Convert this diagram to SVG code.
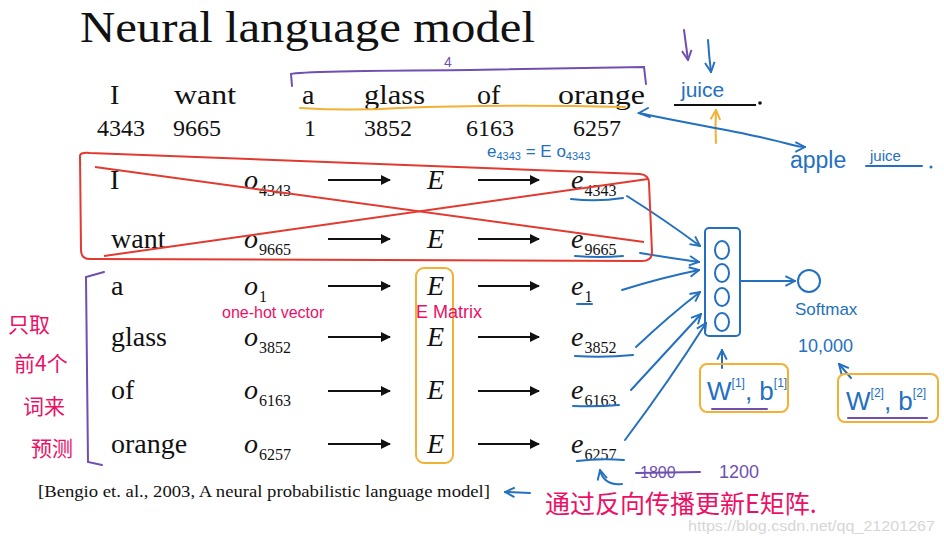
<svg xmlns="http://www.w3.org/2000/svg" width="944" height="537" viewBox="0 0 944 537">
<style>
.ser{font-family:"Liberation Serif","Times New Roman",serif;fill:#111}
.it{font-style:italic}
.sub{font-size:16px;font-style:normal}
.blk{stroke:#111;stroke-width:2;fill:none}
.hb{font-family:"Liberation Sans","Noto Sans",sans-serif;fill:#2470c0}
.hm{font-family:"Liberation Sans","Noto Sans CJK SC",sans-serif;fill:#ec1065}
.hp{font-family:"Liberation Sans","Noto Sans",sans-serif;fill:#6f4faf}
.bl{stroke:#2470c0;stroke-width:2;fill:none;stroke-linecap:round}
.rd{stroke:#e23a30;stroke-width:2;fill:none}
.pu{stroke:#6f4faf;stroke-width:2;fill:none;stroke-linecap:round}
.or{stroke:#f2b133;stroke-width:2;fill:none;stroke-linecap:round}
.cjk{font-family:"Noto Sans CJK SC",sans-serif;fill:#ec1065}
</style>
<defs>
<marker id="ah" viewBox="0 0 10 10" refX="9" refY="5" markerWidth="10" markerHeight="10" markerUnits="userSpaceOnUse" orient="auto"><path d="M0,0 L10,5 L0,10 z" fill="#111"/></marker>
<marker id="bv" viewBox="0 0 10 10" refX="9" refY="5" markerWidth="12" markerHeight="12" markerUnits="userSpaceOnUse" orient="auto"><path d="M1,1 L9,5 L1,9" fill="none" stroke="#2470c0" stroke-width="1.6"/></marker>
<marker id="pv" viewBox="0 0 10 10" refX="9" refY="5" markerWidth="12" markerHeight="12" markerUnits="userSpaceOnUse" orient="auto"><path d="M1,1 L9,5 L1,9" fill="none" stroke="#6f4faf" stroke-width="1.6"/></marker>
<marker id="ov" viewBox="0 0 10 10" refX="9" refY="5" markerWidth="12" markerHeight="12" markerUnits="userSpaceOnUse" orient="auto"><path d="M1,1 L9,5 L1,9" fill="none" stroke="#f2b133" stroke-width="1.6"/></marker>
</defs>
<rect width="944" height="537" fill="#fff"/>

<g id="title"><text class="ser" x="80" y="42" font-size="44" textLength="455" lengthAdjust="spacingAndGlyphs">Neural language model</text></g>

<g id="sentence" class="ser" font-size="28">
<text x="110" y="104">I</text>
<text x="174" y="104" textLength="62" lengthAdjust="spacingAndGlyphs">want</text>
<text x="302" y="104">a</text>
<text x="364" y="104" textLength="61" lengthAdjust="spacingAndGlyphs">glass</text>
<text x="477" y="104">of</text>
<text x="558" y="104" textLength="87" lengthAdjust="spacingAndGlyphs">orange</text>
</g>
<g id="indices" class="ser" font-size="24">
<text x="97" y="136">4343</text>
<text x="173" y="136">9665</text>
<text x="304" y="136">1</text>
<text x="364" y="136">3852</text>
<text x="466" y="136">6163</text>
<text x="573" y="136">6257</text>
</g>

<g id="rows" class="ser" font-size="28">
<text x="110" y="189">I</text>
<text x="111" y="248">want</text>
<text x="111" y="295">a</text>
<text x="111" y="346">glass</text>
<text x="111" y="399">of</text>
<text x="111" y="453">orange</text>
<g class="it">
<text x="244" y="189">o<tspan class="sub" dx="1" dy="7">4343</tspan></text>
<text x="244" y="248">o<tspan class="sub" dx="1" dy="7">9665</tspan></text>
<text x="244" y="295">o<tspan class="sub" dx="1" dy="7">1</tspan></text>
<text x="244" y="346">o<tspan class="sub" dx="1" dy="7">3852</tspan></text>
<text x="244" y="399">o<tspan class="sub" dx="1" dy="7">6163</tspan></text>
<text x="244" y="453">o<tspan class="sub" dx="1" dy="7">6257</tspan></text>
<text x="427" y="189">E</text>
<text x="427" y="248">E</text>
<text x="427" y="295">E</text>
<text x="427" y="346">E</text>
<text x="427" y="399">E</text>
<text x="427" y="453">E</text>
<text x="571" y="189">e<tspan class="sub" dx="1" dy="7">4343</tspan></text>
<text x="571" y="248">e<tspan class="sub" dx="1" dy="7">9665</tspan></text>
<text x="571" y="295">e<tspan class="sub" dx="1" dy="7">1</tspan></text>
<text x="571" y="346">e<tspan class="sub" dx="1" dy="7">3852</tspan></text>
<text x="571" y="399">e<tspan class="sub" dx="1" dy="7">6163</tspan></text>
<text x="571" y="453">e<tspan class="sub" dx="1" dy="7">6257</tspan></text>
</g>
</g>

<g id="connectors">
<g class="blk" marker-end="url(#ah)">
<line x1="328" y1="180" x2="390" y2="180"/><line x1="478" y1="180" x2="539" y2="180"/>
<line x1="328" y1="239" x2="390" y2="239"/><line x1="478" y1="239" x2="539" y2="239"/>
<line x1="328" y1="286" x2="390" y2="286"/><line x1="478" y1="286" x2="539" y2="286"/>
<line x1="328" y1="337" x2="390" y2="337"/><line x1="478" y1="337" x2="539" y2="337"/>
<line x1="328" y1="391" x2="390" y2="391"/><line x1="478" y1="391" x2="539" y2="391"/>
<line x1="328" y1="444" x2="390" y2="444"/><line x1="478" y1="444" x2="539" y2="444"/>
</g>
<g class="bl" marker-end="url(#bv)">
<path d="M627 196 Q665 220 700 246"/>
<path d="M640 253 Q670 258 699 262"/>
<path d="M622 290 Q660 278 699 270"/>
<path d="M636 347 Q670 315 700 292"/>
<path d="M631 390 Q668 350 701 314"/>
<path d="M625 440 Q670 380 706 323"/>
<path d="M740 281 L795 281"/>
<path d="M722 368 L722 350"/>
<path d="M851 378 L839 364"/>
<path d="M708 40 Q709 56 711 72"/>
<path d="M530 493 L505 492"/>
<path d="M622 484 Q604 486 600 470"/>
</g>
<path class="pu" d="M684 30 Q686 45 688 60" marker-end="url(#pv)"/>
<path class="or" d="M716 143 Q715 126 716 110" marker-end="url(#ov)"/>
<path class="bl" d="M639 113 C690 124 720 128 760 137 S795 147 805 147" marker-end="url(#bv)"/>
<path class="bl" d="M650 117 L639 113 L648 108"/>
</g>

<g id="red-box">
<path class="rd" d="M80 156 Q80 152 90 153 L640 174 Q649 175 649 183 L652 252 Q652 261 642 261 L90 259 Q81 259 81 250 Z"/>
<line class="rd" x1="95" y1="167" x2="644" y2="242"/>
<line class="rd" x1="104" y1="256" x2="648" y2="179"/>
</g>

<g id="brackets">
<path class="pu" d="M292 86 L291 74 Q300 71 470 70 Q600 68 644 67 L646 84"/>
<text class="hp" x="444" y="67" font-size="14">4</text>
<path class="or" d="M300 108 Q350 111 400 108 Q500 104 625 107"/>
<path class="pu" d="M104 272 L86 277 L88 462 L102 465"/>
</g>

<g id="E-matrix">
<rect class="or" x="416" y="268" width="37" height="195" rx="8"/>
<text class="hm" x="416" y="318" font-size="18">E Matrix</text>
<text class="hm" x="222" y="318" font-size="16">one-hot vector</text>
</g>

<g id="underlines" class="bl">
<path d="M571 199 Q597 202 623 198"/>
<path d="M575 256 Q600 258 623 256"/>
<path d="M577 304 L592 304"/>
<path d="M575 356 Q605 358 633 355"/>
<path d="M573 406 Q597 407 619 405"/>
<path d="M577 461 Q600 458 624 460"/>
</g>

<g id="equation"><text class="hb" x="487" y="157" font-size="17">e<tspan font-size="11" dy="3">4343</tspan><tspan dy="-3"> = E o</tspan><tspan font-size="11" dy="3">4343</tspan></text></g>

<g id="hidden-layer">
<rect x="705" y="228" width="35" height="108" rx="4" fill="none" stroke="#2470c0" stroke-width="2"/>
<g fill="none" stroke="#2470c0" stroke-width="2">
<ellipse cx="722" cy="250" rx="7" ry="9"/>
<ellipse cx="722" cy="273" rx="7" ry="9"/>
<ellipse cx="722" cy="297" rx="7" ry="9"/>
<ellipse cx="722" cy="322" rx="7" ry="9"/>
</g>
</g>

<g id="softmax">
<circle cx="809" cy="281" r="11" fill="none" stroke="#2470c0" stroke-width="2"/>
<text class="hb" x="795" y="315" font-size="17">Softmax</text>
<text class="hb" x="798" y="352" font-size="18">10,000</text>
</g>

<g id="params1">
<rect class="or" x="700" y="364" width="88" height="48" rx="7"/>
<text class="hb" x="707" y="400" font-size="26">W<tspan font-size="12" dy="-13">[1]</tspan><tspan dy="13">, b</tspan><tspan font-size="12" dy="-13">[1]</tspan></text>
<line class="pu" x1="712" y1="409" x2="767" y2="409"/>
</g>
<g id="params2">
<rect class="or" x="838" y="374" width="100" height="48" rx="7"/>
<text class="hb" x="846" y="410" font-size="26">W<tspan font-size="12" dy="-13">[2]</tspan><tspan dy="13">, b</tspan><tspan font-size="12" dy="-13">[2]</tspan></text>
<line class="pu" x1="848" y1="418" x2="927" y2="418"/>
</g>

<g id="juice">
<text class="hb" x="681" y="97" font-size="21">juice</text>
<line x1="674" y1="105" x2="756" y2="105" stroke="#111" stroke-width="2"/>
<circle cx="760" cy="103" r="1.8" fill="#111"/>
</g>
<g id="apple-juice">
<text class="hb" x="790" y="168" font-size="23">apple</text>
<text class="hb" x="870" y="161" font-size="15">juice</text>
<line class="bl" x1="866" y1="166" x2="922" y2="166"/>
<circle cx="931" cy="167" r="1.5" fill="#2470c0"/>
</g>

<g id="left-note" class="cjk" font-size="21">
<text x="8" y="332">只取</text>
<text x="14" y="371">前4个</text>
<text x="23" y="414">词来</text>
<text x="31" y="456">预测</text>
</g>

<g id="counts">
<text class="hp" x="640" y="478" font-size="16">1800</text>
<line class="pu" x1="636" y1="473" x2="700" y2="472" stroke-width="1.6"/>
<text class="hp" x="719" y="478" font-size="18">1200</text>
</g>

<g id="citation"><text class="ser" x="38" y="497" font-size="16" textLength="452" lengthAdjust="spacingAndGlyphs">[Bengio et. al., 2003, A neural probabilistic language model]</text></g>
<g id="watermark"><text x="688" y="531" font-family="Liberation Sans,sans-serif" font-size="15" textLength="247" lengthAdjust="spacingAndGlyphs" fill="#d6d6d6">https://blog.csdn.net/qq_21201267</text></g>
<g id="note-bottom"><text class="cjk" x="545" y="513" font-size="25">通过反向传播更新E矩阵.</text></g>
</svg>
